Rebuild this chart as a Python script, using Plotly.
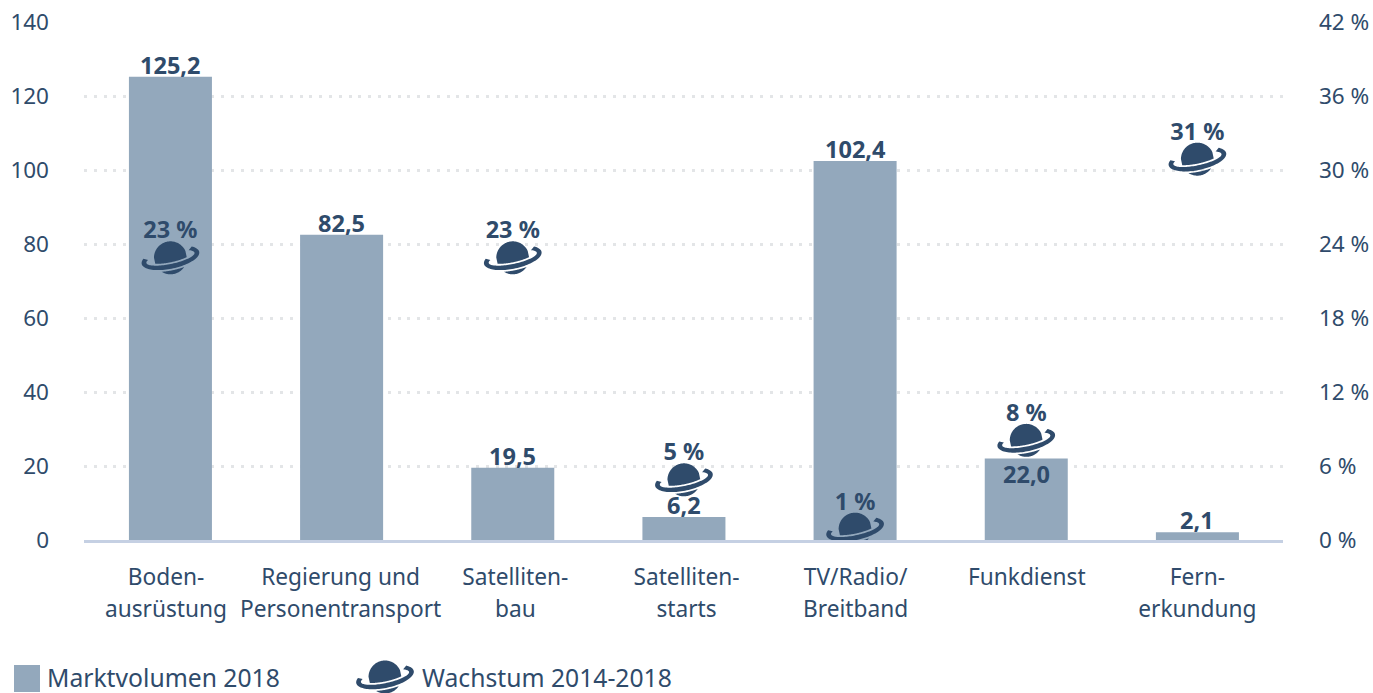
import numpy as np
import plotly.graph_objects as go

categories = ["Boden-<br>ausrüstung", "Regierung und<br>Personentransport", "Satelliten-<br>bau",
              "Satelliten-<br>starts", "TV/Radio/<br>Breitband", "Funkdienst", "Fern-<br>erkundung"]
market_2018 = [125.2, 82.5, 19.5, 6.2, 102.4, 22.0, 2.1]
market_labels = ["125,2", "82,5", "19,5", "6,2", "102,4", "22,0", "2,1"]
market_label_inside = [False, False, False, False, False, True, False]
growth_x = [0, 2, 3, 4, 5, 6]
growth = [23, 23, 5, 1, 8.2, 31]
growth_labels = ["23 %", "23 %", "5 %", "1 %", "8 %", "31 %"]
left_ticks = [0, 20, 40, 60, 80, 100, 120, 140]
right_ticks = [0, 6, 12, 18, 24, 30, 36, 42]
right_tick_labels = ["0 %", "6 %", "12 %", "18 %", "24 %", "30 %", "36 %", "42 %"]

W, H = 1373, 693
L, R, T, B = 84, 90, 22, 153
DARK = "#2f4b6b"
BAR = "#93a8bc"
FONT = "Noto Sans"
positions = list(range(len(categories)))
tick_nudge = [-0.026, -0.006, 0.015, 0.015, 0.003, 0.003, 0.0]
tickvals = [p + n for p, n in zip(positions, tick_nudge)]


def poly(pts):
    return "M" + "L".join(f"{x:.2f},{y:.2f}" for x, y in pts) + "Z"


def planet_path(R0=16.5, a=27.0, b=8.5, half=2.4, gap=1.7, tilt=12.0):
    """Planet icon outline, in pixels around its anchor (y up)."""
    c, s = np.cos(np.radians(tilt)), np.sin(np.radians(tilt))

    def to_xy(u, v):  # u along ring, v downward in ring frame -> x right, y up
        xd = u * c + v * s
        yd = -u * s + v * c
        return xd, -yd - 1.5

    us = np.linspace(-R0, R0, 81)
    f = b * np.sqrt(np.clip(1 - (us / a) ** 2, 0, 1))
    top = -np.sqrt(np.clip(R0 ** 2 - us ** 2, 0, None))
    bot = -top
    dome_low = np.minimum(bot, f - half - gap)
    keep = dome_low > top
    dome = [to_xy(u, v) for u, v in zip(us[keep], top[keep])] + \
           [to_xy(u, v) for u, v in zip(us[keep][::-1], dome_low[keep][::-1])]
    cap_up = np.maximum(top, f + half + gap)
    keep = bot > cap_up
    cap = [to_xy(u, v) for u, v in zip(us[keep], cap_up[keep])] + \
          [to_xy(u, v) for u, v in zip(us[keep][::-1], bot[keep][::-1])]
    ts = np.radians(np.linspace(-38, 205, 70))
    outer = [to_xy((a + half) * np.cos(t), (b + half) * np.sin(t)) for t in ts]
    inner = [to_xy((a - half) * np.cos(t), (b - half) * np.sin(t)) for t in ts[::-1]]
    return poly(dome) + poly(cap) + poly(outer + inner)


PLANET = planet_path()

fig = go.Figure()
fig.add_trace(go.Bar(
    x=positions, y=market_2018, width=0.485, marker=dict(color=BAR, line_width=0),
    showlegend=False, hoverinfo="skip",
))
fig.add_trace(go.Scatter(
    x=growth_x, y=growth, yaxis="y2", mode="markers+text",
    marker=dict(size=18, color="rgba(0,0,0,0)"),
    text=growth_labels, textposition="top center", cliponaxis=False,
    textfont=dict(family=FONT, size=23.5, color=DARK, weight="bold"),
    showlegend=False, hoverinfo="skip",
))

shapes = [dict(type="path", xref="x", yref="y2", xsizemode="pixel", ysizemode="pixel",
               xanchor=gx, yanchor=gy, path=PLANET, fillcolor=DARK, line_width=0, layer="above")
          for gx, gy in zip(growth_x, growth)]

px = lambda v: (v - L) / (W - L - R)
py = lambda v: (H - B - v) / (H - T - B)
# legend swatch and icon
shapes.append(dict(type="rect", xref="paper", yref="paper", x0=px(14), x1=px(40), y0=py(692), y1=py(665),
                   fillcolor=BAR, line_width=0))
shapes.append(dict(type="path", xref="paper", yref="paper", xsizemode="pixel", ysizemode="pixel",
                   xanchor=px(385), yanchor=py(675.5), path=PLANET, fillcolor=DARK, line_width=0))

annotations = [
    dict(text="Marktvolumen 2018", xref="paper", yref="paper", x=px(45), y=py(677), xanchor="left",
         yanchor="middle", showarrow=False, font=dict(family=FONT, size=24.7, color=DARK)),
    dict(text="Wachstum 2014-2018", xref="paper", yref="paper", x=px(420), y=py(677), xanchor="left",
         yanchor="middle", showarrow=False, font=dict(family=FONT, size=24.7, color=DARK)),
]
for p, v, t, inside in zip(positions, market_2018, market_labels, market_label_inside):
    annotations.append(dict(text=t, x=p, y=v, xref="x", yref="y", showarrow=False, yanchor="middle",
                            yshift=-15 if inside else 12,
                            font=dict(family=FONT, size=23.5, color=DARK, weight="bold")))

span = '<span style="font-size:22.7px">'
ticktext = [span + c.replace("<br>", "</span><br>" + span) + "</span>" for c in categories]

fig.update_layout(
    width=W, height=H, margin=dict(l=L, r=R, t=T, b=B, pad=0),
    paper_bgcolor="white", plot_bgcolor="white", bargap=0.515,
    font=dict(family=FONT, color=DARK, size=22),
    shapes=shapes, annotations=annotations, showlegend=False,
    xaxis=dict(range=[-0.505, 6.5], tickmode="array", tickvals=tickvals, ticktext=ticktext,
               tickfont=dict(family=FONT, size=25, color=DARK), tickangle=0, ticks="",
               showline=True, linecolor="#c5d0e3", linewidth=2.5, showgrid=False, zeroline=False,
               ticklabelstandoff=12, automargin=False),
    yaxis=dict(range=[0, 140], tickmode="array", tickvals=left_ticks, ticks="",
               tickfont=dict(family=FONT, size=22.5, color=DARK), ticklabelstandoff=34,
               showgrid=True, gridcolor="#e3e5e7", gridwidth=2.5, griddash="3px,6.8px",
               zeroline=False, showline=False, automargin=False),
    yaxis2=dict(range=[0, 42], overlaying="y", side="right", tickmode="array", tickvals=right_ticks,
                ticktext=right_tick_labels, ticks="", tickfont=dict(family=FONT, size=22.5, color=DARK),
                ticklabelstandoff=35, showgrid=False, zeroline=False, showline=False, automargin=False),
)

fig.write_html("out.html", config={"displayModeBar": False},
               post_script="document.body.style.margin='0';document.body.style.overflow='hidden';")
